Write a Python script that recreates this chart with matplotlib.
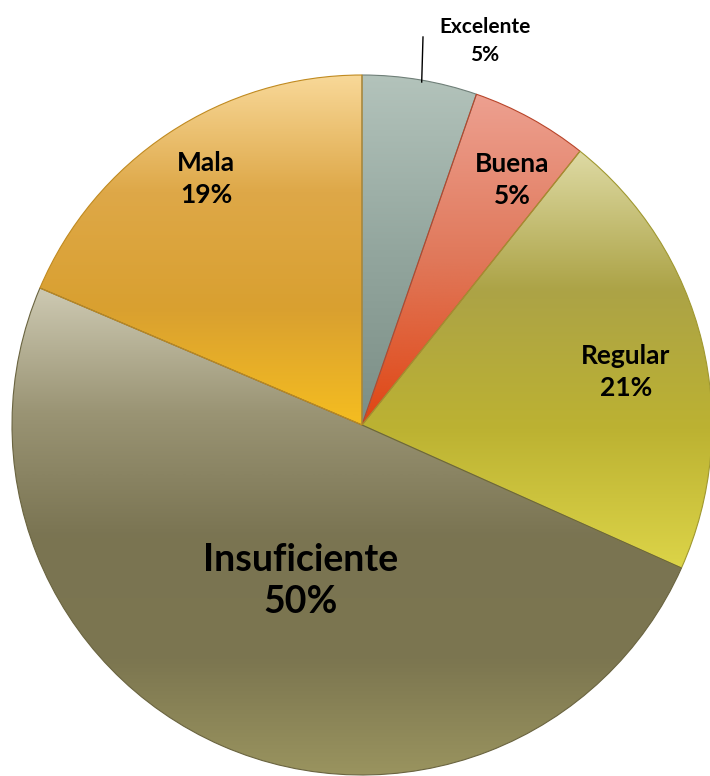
import numpy as np
import matplotlib
matplotlib.use("Agg")
import matplotlib.pyplot as plt
from matplotlib.colors import LinearSegmentedColormap

# datos del gráfico
categorias = ["Excelente", "Buena", "Regular", "Insuficiente", "Mala"]
valores = [5.3, 5.4, 21.0, 49.7, 18.6]
etiquetas = ["5%", "5%", "21%", "50%", "19%"]

# degradados (arriba -> abajo) y color de borde de cada porción
degradados = [
    ["#b3c3bb", "#93a69e", "#7b8e86"],
    ["#eda090", "#e0785a", "#e04512"],
    ["#dedaa4", "#aca346", "#bcb232", "#dcd448"],
    ["#cdc9b2", "#9a9474", "#7a7452", "#7c7650", "#9c9660"],
    ["#f8d898", "#dea848", "#d9a030", "#f5bd20"],
]
bordes = ["#6f7f78", "#b8452a", "#a09830", "#6a6440", "#c08a20"]

fig = plt.figure(figsize=(7.1, 7.76), dpi=100)
ax = fig.add_axes([0, 0, 1, 1])

wedges, _ = ax.pie(valores, startangle=90, counterclock=False,
                   radius=350, center=(362, 351), frame=True)

for w, stops, bc in zip(wedges, degradados, bordes):
    v = w.get_path().vertices
    x0, x1 = v[:, 0].min(), v[:, 0].max()
    y0, y1 = v[:, 1].min(), v[:, 1].max()
    cmap = LinearSegmentedColormap.from_list("g", stops)
    grad = np.linspace(0, 1, 256).reshape(-1, 1)
    im = ax.imshow(grad, cmap=cmap, extent=(x0, x1, y0, y1), origin="upper",
                   aspect="auto", zorder=1, interpolation="bicubic")
    im.set_clip_path(w)
    w.set_facecolor("none")
    w.set_edgecolor(bc)
    w.set_linewidth(0.8)
    w.set_zorder(2)

ax.set_xlim(0, 710)
ax.set_ylim(0, 776)
ax.axis("off")

fuente = "Lato"
# etiquetas dentro de las porciones
ax.text(206, 776 - 179, "Mala\n19%", ha="center", va="center", fontsize=19,
        fontweight="bold", family=fuente, linespacing=1.38)
ax.text(512, 776 - 180, "Buena\n5%", ha="center", va="center", fontsize=19,
        fontweight="bold", family=fuente, linespacing=1.38)
ax.text(626, 776 - 372, "Regular\n21%", ha="center", va="center", fontsize=19,
        fontweight="bold", family=fuente, linespacing=1.38)
ax.text(301, 776 - 581, "Insuficiente\n50%", ha="center", va="center",
        fontsize=27, fontweight="bold", family=fuente, linespacing=1.28)

# etiqueta exterior con línea guía
ax.plot([421.7, 423], [776 - 82, 776 - 37], color="black", lw=1, zorder=3)
ax.text(485, 776 - 41, "Excelente\n5%", ha="center", va="center", fontsize=15,
        fontweight="bold", family=fuente, linespacing=1.5)

fig.savefig("out.png", dpi=100)
